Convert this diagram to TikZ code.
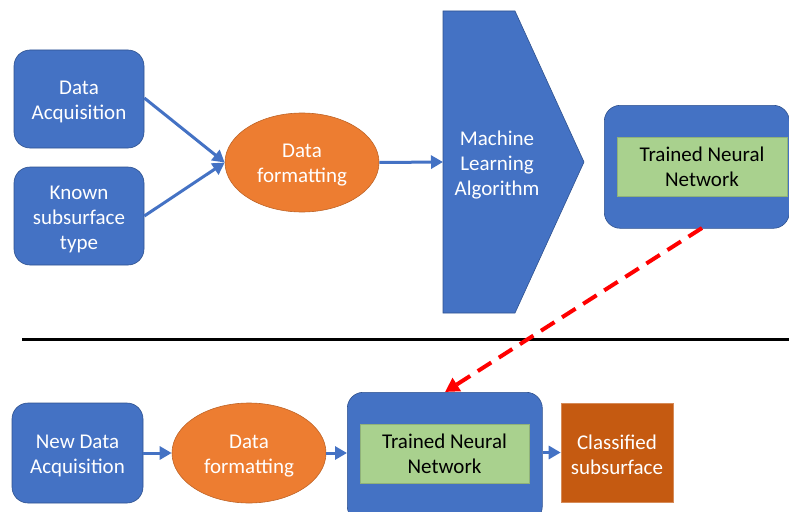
\documentclass[tikz,border=0pt]{standalone}
\usepackage{fontspec}
\setmainfont{Carlito}
\usetikzlibrary{arrows.meta,shapes.geometric}
\definecolor{pblue}{HTML}{4472C4}
\definecolor{pblueline}{HTML}{2F528F}
\definecolor{porange}{HTML}{ED7D31}
\definecolor{pgreen}{HTML}{A9D18E}
\definecolor{pdark}{HTML}{C55A11}
\tikzset{
  tl/.style={align=center,yshift=-3pt,inner sep=0pt},
  tw/.style={tl,text=white},
  tb/.style={tl,text=black,yshift=2.5pt},
  bluebox/.style={fill=pblue,draw=pblueline,line width=0.6pt,rounded corners=16pt},
  ellbox/.style={ellipse,fill=porange,draw=porange!80!black,line width=0.6pt,inner sep=0pt},
  greenbox/.style={fill=pgreen,draw=pgreen!85!black,line width=0.6pt,inner sep=0pt},
  flow/.style={draw=pblue,line width=3pt,-{Triangle[length=12pt,width=13pt]}},
  txt/.style={font=\fontsize{21}{25}\selectfont}
}
\begin{document}
\begin{tikzpicture}[x=1pt,y=-1pt,txt]
\useasboundingbox (0,0) rectangle (789,511);
\clip (0,0) rectangle (789,511);
% top row
\node[bluebox,minimum width=130pt,minimum height=98pt,label={[tw]center:{Data\\Acquisition}}] (da) at (79,99) {};
\node[bluebox,minimum width=130pt,minimum height=98pt,label={[tw]center:{Known\\subsurface\\type}}] (ks) at (79,216) {};
\node[ellbox,minimum width=154pt,minimum height=99pt,label={[tw]center:{Data\\formatting}}] (df) at (302,162.5) {};
\path[fill=pblue,draw=pblueline,line width=0.6pt] (443,11) -- (515,11) -- (584,162) -- (515,313) -- (443,313) -- cycle;
\node[tw] (ml) at (497,162) {Machine\\Learning\\Algorithm};
\coordinate (mlin) at (443,162);
\node[bluebox,minimum width=185pt,minimum height=123pt,anchor=north west] (tnn) at (604,105) {};
\node[greenbox,minimum width=170pt,minimum height=59pt,label={[tb]center:{Trained Neural\\Network}}] (tnng) at (702,166.5) {};
\draw[flow] (da.east) ++(0,-1) -- (df.west);
\draw[flow] (ks.east) -- (df.west);
\draw[flow] (df.east) -- (mlin);
% separator
\coordinate (s1) at (22,339);
\coordinate (s2) at (789,339);
\draw[line width=3pt] (s1) -- (s2);
% bottom row
\node[bluebox,minimum width=131pt,minimum height=100pt,label={[tw]center:{New Data\\Acquisition}}] (nda) at (77.5,453) {};
\node[ellbox,minimum width=154pt,minimum height=100pt,label={[tw]center:{Data\\formatting}}] (df2) at (249,453) {};
\node[bluebox,minimum width=195pt,minimum height=130pt,anchor=north west] (tnn2) at (347,392) {};
\node[greenbox,minimum width=169pt,minimum height=59pt,label={[tb]center:{Trained Neural\\Network}}] (tnn2g) at (444.5,453.5) {};
\node[fill=pdark,draw=pdark!70!white,line width=0.6pt,minimum width=112pt,minimum height=99pt,label={[tw,yshift=1pt]center:{Classified\\subsurface}}] (cs) at (617,452.5) {};
\draw[flow] (nda.east) -- (df2.west);
\draw[flow] (df2.east) -- (tnn2.west |- df2.east);
\draw[flow] (tnn2.east |- cs.west) -- (cs.west);
% red dashed
\coordinate (rd1) at (702,228);
\coordinate (rd2) at (445,392);
\draw[red,line width=4pt,dash pattern=on 16pt off 9pt,-{Triangle[length=14pt,width=15pt]}] (rd1) -- (rd2);
\end{tikzpicture}
\end{document}
